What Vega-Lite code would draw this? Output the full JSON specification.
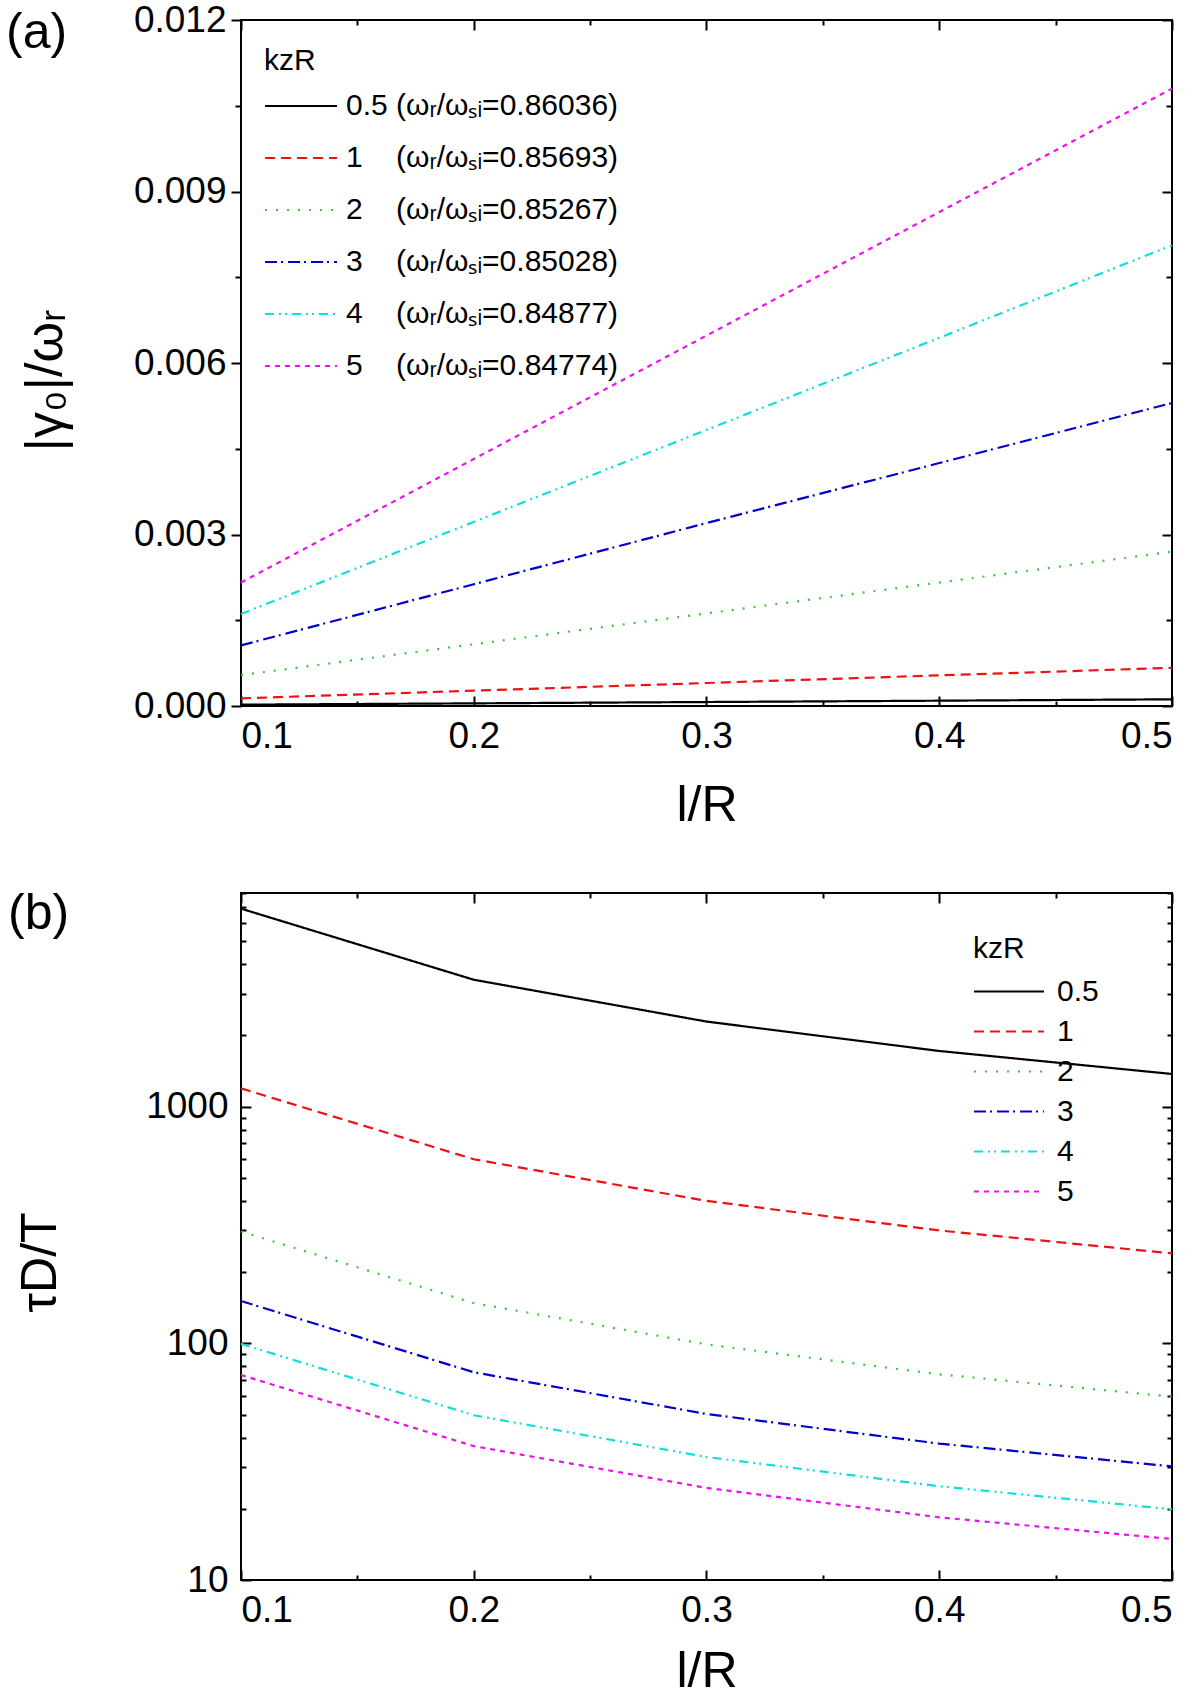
{
  "$schema": "https://vega.github.io/schema/vega-lite/v6.json",
  "background": "white",
  "padding": {"left": 5, "top": 0, "right": 0, "bottom": 0},
  "config": {
    "font": "Liberation Sans",
    "view": {"stroke": "#000000", "strokeWidth": 2},
    "axis": {
      "domain": false,
      "grid": false,
      "labelFont": "Liberation Sans",
      "labelFontSize": 37,
      "labelColor": "#000000",
      "titleFont": "Liberation Sans",
      "titleFontSize": 50,
      "titleFontWeight": "normal",
      "titleColor": "#000000",
      "tickColor": "#000000",
      "tickWidth": 2
    },
    "legend": {
      "orient": "none",
      "padding": 0,
      "titleFont": "Liberation Sans",
      "titleFontSize": 30,
      "titleFontWeight": "normal",
      "titleColor": "#000000",
      "titlePadding": -7,
      "labelFont": "Liberation Sans",
      "labelFontSize": 30,
      "labelColor": "#000000",
      "labelLimit": 0,
      "symbolType": "stroke",
      "symbolStrokeWidth": 2
    },
    "title": {"font": "Liberation Sans", "fontSize": 50, "fontWeight": "normal", "color": "#000000"}
  },
  "datasets": {
    "gamma": [
      {"lR": 0.1, "k": "0.5", "v": 0.0000232}, {"lR": 0.2, "k": "0.5", "v": 0.0000464}, {"lR": 0.3, "k": "0.5", "v": 0.0000696}, {"lR": 0.4, "k": "0.5", "v": 0.0000928}, {"lR": 0.5, "k": "0.5", "v": 0.000117},
      {"lR": 0.1, "k": "1", "v": 0.000134}, {"lR": 0.2, "k": "1", "v": 0.000268}, {"lR": 0.3, "k": "1", "v": 0.000402}, {"lR": 0.4, "k": "1", "v": 0.000536}, {"lR": 0.5, "k": "1", "v": 0.000668},
      {"lR": 0.1, "k": "2", "v": 0.00054}, {"lR": 0.2, "k": "2", "v": 0.00108}, {"lR": 0.3, "k": "2", "v": 0.00162}, {"lR": 0.4, "k": "2", "v": 0.00216}, {"lR": 0.5, "k": "2", "v": 0.0027},
      {"lR": 0.1, "k": "3", "v": 0.00106}, {"lR": 0.2, "k": "3", "v": 0.00213}, {"lR": 0.3, "k": "3", "v": 0.0032}, {"lR": 0.4, "k": "3", "v": 0.00425}, {"lR": 0.5, "k": "3", "v": 0.0053},
      {"lR": 0.1, "k": "4", "v": 0.00161}, {"lR": 0.2, "k": "4", "v": 0.00322}, {"lR": 0.3, "k": "4", "v": 0.00483}, {"lR": 0.4, "k": "4", "v": 0.00644}, {"lR": 0.5, "k": "4", "v": 0.00806},
      {"lR": 0.1, "k": "5", "v": 0.00216}, {"lR": 0.2, "k": "5", "v": 0.00432}, {"lR": 0.3, "k": "5", "v": 0.00648}, {"lR": 0.4, "k": "5", "v": 0.00864}, {"lR": 0.5, "k": "5", "v": 0.0108}
    ],
    "tau": [
      {"lR": 0.1, "k": "0.5", "v": 6870}, {"lR": 0.2, "k": "0.5", "v": 3440}, {"lR": 0.3, "k": "0.5", "v": 2290}, {"lR": 0.4, "k": "0.5", "v": 1720}, {"lR": 0.5, "k": "0.5", "v": 1375},
      {"lR": 0.1, "k": "1", "v": 1195}, {"lR": 0.2, "k": "1", "v": 600}, {"lR": 0.3, "k": "1", "v": 400}, {"lR": 0.4, "k": "1", "v": 300}, {"lR": 0.5, "k": "1", "v": 240},
      {"lR": 0.1, "k": "2", "v": 297}, {"lR": 0.2, "k": "2", "v": 148}, {"lR": 0.3, "k": "2", "v": 99}, {"lR": 0.4, "k": "2", "v": 74}, {"lR": 0.5, "k": "2", "v": 59.5},
      {"lR": 0.1, "k": "3", "v": 151}, {"lR": 0.2, "k": "3", "v": 75.5}, {"lR": 0.3, "k": "3", "v": 50.3}, {"lR": 0.4, "k": "3", "v": 37.7}, {"lR": 0.5, "k": "3", "v": 30.2},
      {"lR": 0.1, "k": "4", "v": 99.5}, {"lR": 0.2, "k": "4", "v": 49.7}, {"lR": 0.3, "k": "4", "v": 33.1}, {"lR": 0.4, "k": "4", "v": 24.9}, {"lR": 0.5, "k": "4", "v": 19.9},
      {"lR": 0.1, "k": "5", "v": 73.5}, {"lR": 0.2, "k": "5", "v": 36.8}, {"lR": 0.3, "k": "5", "v": 24.5}, {"lR": 0.4, "k": "5", "v": 18.4}, {"lR": 0.5, "k": "5", "v": 14.9}
    ]
  },
  "spacing": 57,
  "resolve": {"scale": {"color": "independent", "strokeDash": "independent"}, "legend": {"color": "independent", "strokeDash": "independent"}},
  "vconcat": [
    {
      "width": 931,
      "height": 686,
      "title": {"text": "(a)", "anchor": "start", "frame": "group", "baseline": "top", "offset": -57, "dx": -235},
      "data": {"name": "gamma"},
      "layer": [
        {
          "mark": {"type": "line", "strokeWidth": 2.2},
          "encoding": {
            "x": {
              "field": "lR", "type": "quantitative",
              "scale": {"domain": [0.1, 0.5], "nice": false},
              "axis": {
                "orient": "bottom", "title": "l/R",
                "values": [0.1, 0.15, 0.2, 0.25, 0.3, 0.35, 0.4, 0.45, 0.5],
                "labelExpr": "abs(datum.value*10 - round(datum.value*10)) < 1e-6 ? format(datum.value, '.1f') : ''",
                "tickSize": {"condition": {"test": "abs(datum.value*10 - round(datum.value*10)) < 1e-6", "value": -10}, "value": -5},
                "labelPadding": 22,
                "titleBaseline": "alphabetic",
                "titleY": 114
              }
            },
            "y": {
              "field": "v", "type": "quantitative",
              "scale": {"domain": [0, 0.012], "nice": false, "zero": false},
              "axis": {
                "orient": "left", "title": "|γ₀|/ωᵣ",
                "values": [0, 0.0015, 0.003, 0.0045, 0.006, 0.0075, 0.009, 0.0105, 0.012],
                "labelExpr": "abs(datum.value/0.003 - round(datum.value/0.003)) < 1e-6 ? format(datum.value, '.3f') : ''",
                "tickSize": {"condition": {"test": "abs(datum.value/0.003 - round(datum.value/0.003)) < 1e-6", "value": 10}, "value": 6},
                "labelPadding": 5,
                "titleFontSize": 52,
                "titleBaseline": "alphabetic",
                "titleX": -180,
                "titleY": 360
              }
            },
            "color": {
              "field": "k", "type": "nominal",
              "scale": {"domain": ["0.5", "1", "2", "3", "4", "5"], "range": ["#000000", "#ee1111", "#33cc33", "#0000cc", "#11dddd", "#ee11ee"]},
              "legend": {
                "title": "kzR", "legendX": 23, "legendY": 26, "symbolSize": 5184, "labelOffset": 8, "rowPadding": 0,
                "labelExpr": "datum.label == '0.5' ? '0.5 (ωᵣ/ωₛᵢ=0.86036)' : datum.label == '1' ? '1\u00a0\u00a0\u00a0 (ωᵣ/ωₛᵢ=0.85693)' : datum.label == '2' ? '2\u00a0\u00a0\u00a0 (ωᵣ/ωₛᵢ=0.85267)' : datum.label == '3' ? '3\u00a0\u00a0\u00a0 (ωᵣ/ωₛᵢ=0.85028)' : datum.label == '4' ? '4\u00a0\u00a0\u00a0 (ωᵣ/ωₛᵢ=0.84877)' : '5\u00a0\u00a0\u00a0 (ωᵣ/ωₛᵢ=0.84774)'"
              }
            },
            "strokeDash": {
              "field": "k", "type": "nominal",
              "scale": {"domain": ["0.5", "1", "2", "3", "4", "5"], "range": [[1, 0], [10, 6], [2, 9], [12, 4, 2, 5], [9, 5, 2, 4, 2, 5], [5, 5]]},
              "legend": {
                "title": "kzR", "legendX": 23, "legendY": 26, "symbolSize": 5184, "labelOffset": 8, "rowPadding": 0,
                "labelExpr": "datum.label == '0.5' ? '0.5 (ωᵣ/ωₛᵢ=0.86036)' : datum.label == '1' ? '1\u00a0\u00a0\u00a0 (ωᵣ/ωₛᵢ=0.85693)' : datum.label == '2' ? '2\u00a0\u00a0\u00a0 (ωᵣ/ωₛᵢ=0.85267)' : datum.label == '3' ? '3\u00a0\u00a0\u00a0 (ωᵣ/ωₛᵢ=0.85028)' : datum.label == '4' ? '4\u00a0\u00a0\u00a0 (ωᵣ/ωₛᵢ=0.84877)' : '5\u00a0\u00a0\u00a0 (ωᵣ/ωₛᵢ=0.84774)'"
              }
            }
          }
        },
        {
          "mark": {"type": "point", "opacity": 0},
          "encoding": {
            "x": {
              "field": "lR", "type": "quantitative",
              "axis": {
                "orient": "top", "title": null, "labels": false,
                "values": [0.1, 0.15, 0.2, 0.25, 0.3, 0.35, 0.4, 0.45, 0.5],
                "tickSize": {"condition": {"test": "abs(datum.value*10 - round(datum.value*10)) < 1e-6", "value": -10}, "value": -5}
              }
            },
            "y": {
              "field": "v", "type": "quantitative",
              "axis": {
                "orient": "right", "title": null, "labels": false,
                "values": [0, 0.0015, 0.003, 0.0045, 0.006, 0.0075, 0.009, 0.0105, 0.012],
                "tickSize": {"condition": {"test": "abs(datum.value/0.003 - round(datum.value/0.003)) < 1e-6", "value": -10}, "value": -6}
              }
            }
          }
        }
      ],
      "resolve": {"axis": {"x": "independent", "y": "independent"}}
    },
    {
      "width": 931,
      "height": 687,
      "title": {"text": "(b)", "anchor": "start", "frame": "group", "baseline": "top", "offset": -47, "dx": -233},
      "data": {"name": "tau"},
      "layer": [
        {
          "mark": {"type": "line", "strokeWidth": 2.2},
          "encoding": {
            "x": {
              "field": "lR", "type": "quantitative",
              "scale": {"domain": [0.1, 0.5], "nice": false},
              "axis": {
                "orient": "bottom", "title": "l/R",
                "values": [0.1, 0.15, 0.2, 0.25, 0.3, 0.35, 0.4, 0.45, 0.5],
                "labelExpr": "abs(datum.value*10 - round(datum.value*10)) < 1e-6 ? format(datum.value, '.1f') : ''",
                "tickSize": {"condition": {"test": "abs(datum.value*10 - round(datum.value*10)) < 1e-6", "value": -10}, "value": -5},
                "labelPadding": 22,
                "titleBaseline": "alphabetic",
                "titleY": 106
              }
            },
            "y": {
              "field": "v", "type": "quantitative",
              "scale": {"type": "log", "domain": [10, 8000], "nice": false},
              "axis": {
                "orient": "left", "title": "τD/T",
                "values": [10, 20, 30, 40, 50, 60, 70, 80, 90, 100, 200, 300, 400, 500, 600, 700, 800, 900, 1000, 2000, 3000, 4000, 5000, 6000, 7000, 8000],
                "labelExpr": "abs(log(datum.value)/LN10 - round(log(datum.value)/LN10)) < 1e-6 ? format(datum.value, 'd') : ''",
                "tickSize": {"condition": {"test": "abs(log(datum.value)/LN10 - round(log(datum.value)/LN10)) < 1e-6", "value": -10}, "value": -5},
                "labelPadding": 23,
                "titleBaseline": "alphabetic",
                "titleX": -186,
                "titleY": 369
              }
            },
            "color": {
              "field": "k", "type": "nominal",
              "scale": {"domain": ["0.5", "1", "2", "3", "4", "5"], "range": ["#000000", "#ee1111", "#33cc33", "#0000cc", "#11dddd", "#ee11ee"]},
              "legend": {"title": "kzR", "legendX": 732, "legendY": 41, "symbolType": "M-1.49,0H1.49", "symbolSize": 2209, "symbolOffset": 11.5, "labelOffset": 23.5, "titlePadding": 3, "rowPadding": 0}
            },
            "strokeDash": {
              "field": "k", "type": "nominal",
              "scale": {"domain": ["0.5", "1", "2", "3", "4", "5"], "range": [[1, 0], [10, 6], [2, 9], [12, 4, 2, 5], [9, 5, 2, 4, 2, 5], [5, 5]]},
              "legend": {"title": "kzR", "legendX": 732, "legendY": 41, "symbolType": "M-1.49,0H1.49", "symbolSize": 2209, "symbolOffset": 11.5, "labelOffset": 23.5, "titlePadding": 3, "rowPadding": 0}
            }
          }
        },
        {
          "mark": {"type": "point", "opacity": 0},
          "encoding": {
            "x": {
              "field": "lR", "type": "quantitative",
              "axis": {
                "orient": "top", "title": null, "labels": false,
                "values": [0.1, 0.15, 0.2, 0.25, 0.3, 0.35, 0.4, 0.45, 0.5],
                "tickSize": {"condition": {"test": "abs(datum.value*10 - round(datum.value*10)) < 1e-6", "value": -10}, "value": -5}
              }
            },
            "y": {
              "field": "v", "type": "quantitative",
              "axis": {
                "orient": "right", "title": null, "labels": false,
                "values": [10, 20, 30, 40, 50, 60, 70, 80, 90, 100, 200, 300, 400, 500, 600, 700, 800, 900, 1000, 2000, 3000, 4000, 5000, 6000, 7000, 8000],
                "tickSize": {"condition": {"test": "abs(log(datum.value)/LN10 - round(log(datum.value)/LN10)) < 1e-6", "value": -10}, "value": -5}
              }
            }
          }
        }
      ],
      "resolve": {"axis": {"x": "independent", "y": "independent"}}
    }
  ]
}
